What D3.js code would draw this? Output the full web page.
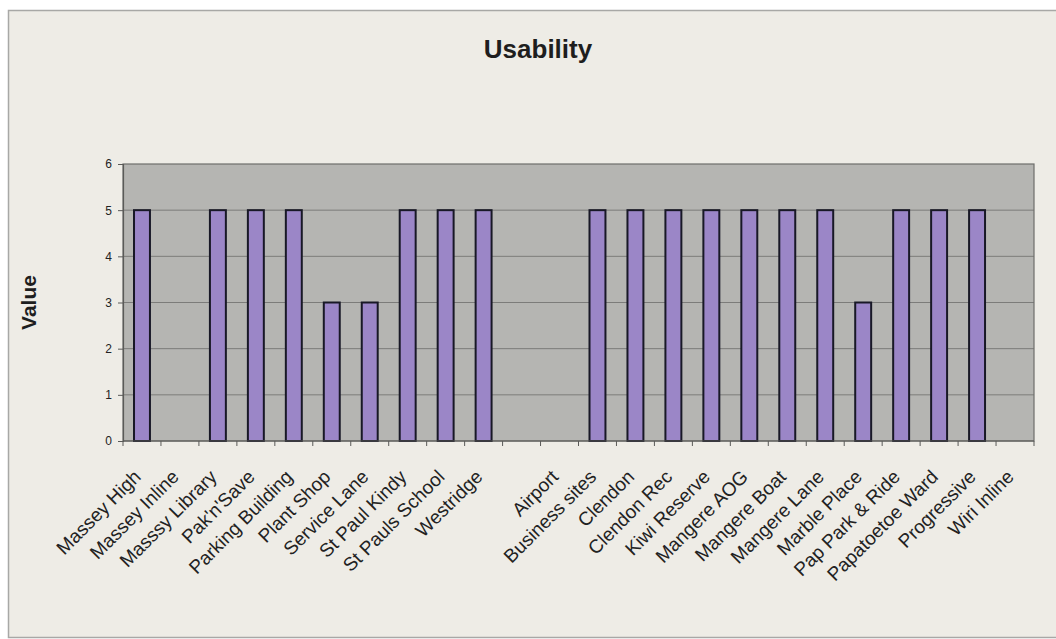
<!DOCTYPE html>
<html>
<head>
<meta charset="utf-8">
<script src="https://cdn.jsdelivr.net/npm/d3@7"></script>
<style>
  body { margin: 0; background: #ffffff; }
  text { font-family: Arial, "Liberation Sans", sans-serif; }
</style>
</head>
<body>
<div id="myChart"></div>
<script>
// categories (one blank slot between Westridge and Airport)
var sites = ["Massey High", "Massey Inline", "Masssy Library", "Pak'n'Save", "Parking Building",
  "Plant Shop", "Service Lane", "St Paul Kindy", "St Pauls School", "Westridge", "",
  "Airport", "Business sites", "Clendon", "Clendon Rec", "Kiwi Reserve", "Mangere AOG",
  "Mangere Boat", "Mangere Lane", "Marble Place", "Pap Park & Ride", "Papatoetoe Ward",
  "Progressive", "Wiri Inline"];
// usability values, null = no bar
var usability = [5, null, 5, 5, 5, 3, 3, 5, 5, 5, null,
  null, 5, 5, 5, 5, 5, 5, 5, 3, 5, 5, 5, null];
var yTicks = [0, 1, 2, 3, 4, 5, 6];

var width = 1056, height = 639;
var plot = { left: 123, right: 1034, top: 164, bottom: 441 };

var svg = d3.select("#myChart")
  .append("svg")
  .attr("width", width)
  .attr("height", height);

// chart area
svg.append("rect")
  .attr("x", 8.5)
  .attr("y", 10.5)
  .attr("width", width)
  .attr("height", 627)
  .style("fill", "#eeece6")
  .style("stroke", "#a8a8a6")
  .style("stroke-width", 1.5);

// title
svg.append("text")
  .attr("x", 538)
  .attr("y", 58)
  .attr("text-anchor", "middle")
  .style("font-size", "26px")
  .style("font-weight", "bold")
  .style("fill", "#1e1e1e")
  .text("Usability");

// scales
var x = d3.scaleBand()
  .domain(d3.range(sites.length))
  .range([plot.left, plot.right])
  .padding(0);

var y = d3.scaleLinear()
  .domain([0, 6])
  .range([plot.bottom, plot.top]);

// plot background
svg.append("rect")
  .attr("x", plot.left)
  .attr("y", plot.top)
  .attr("width", plot.right - plot.left)
  .attr("height", plot.bottom - plot.top)
  .style("fill", "#b5b5b2");

// gridlines
svg.append("g")
  .selectAll("line")
  .data(yTicks.slice(1, -1))
  .enter()
  .append("line")
  .attr("x1", plot.left)
  .attr("x2", plot.right)
  .attr("y1", function(d) { return y(d) })
  .attr("y2", function(d) { return y(d) })
  .style("stroke", "#7c7c7a")
  .style("stroke-width", 1);

// plot border
svg.append("rect")
  .attr("x", plot.left)
  .attr("y", plot.top)
  .attr("width", plot.right - plot.left)
  .attr("height", plot.bottom - plot.top)
  .style("fill", "none")
  .style("stroke", "#6e6e6c")
  .style("stroke-width", 1.2);

// bars
var barW = x.bandwidth() * 0.42;
svg.append("g")
  .selectAll(".bar")
  .data(usability.map(function(v, i) { return { i: i, val: v } }).filter(function(d) { return d.val != null }))
  .enter()
  .append("rect")
  .attr("class", "bar")
  .attr("x", function(d) { return x(d.i) + (x.bandwidth() - barW) / 2 })
  .attr("y", function(d) { return y(d.val) })
  .attr("width", barW)
  .attr("height", function(d) { return y(0) - y(d.val) })
  .style("fill", "#9b86c7")
  .style("stroke", "#181826")
  .style("stroke-width", 2);

// y axis
var yAxis = svg.append("g")
  .attr("transform", "translate(" + plot.left + ",0)")
  .call(d3.axisLeft(y).tickValues(yTicks).tickFormat(d3.format("d")).tickSize(5).tickPadding(6));
yAxis.select(".domain").style("stroke", "#5a5a58").style("stroke-width", 1.2);
yAxis.selectAll(".tick line").style("stroke", "#5a5a58");
yAxis.selectAll("text")
  .style("font-size", "12px")
  .style("fill", "#222");

// x axis: ticks on category boundaries
var xAxis = svg.append("g")
  .attr("transform", "translate(0," + plot.bottom + ")");
xAxis.append("line")
  .attr("x1", plot.left)
  .attr("x2", plot.right)
  .style("stroke", "#5a5a58")
  .style("stroke-width", 1.2);
xAxis.selectAll(".tk")
  .data(d3.range(sites.length + 1))
  .enter()
  .append("line")
  .attr("class", "tk")
  .attr("x1", function(d) { return plot.left + d * x.step() })
  .attr("x2", function(d) { return plot.left + d * x.step() })
  .attr("y1", 0)
  .attr("y2", 5)
  .style("stroke", "#5a5a58");

xAxis.selectAll(".lbl")
  .data(sites)
  .enter()
  .append("text")
  .attr("class", "lbl")
  .attr("text-anchor", "end")
  .attr("transform", function(d, i) {
    return "translate(" + (x(i) + x.bandwidth() / 2) + ",37) rotate(-45)";
  })
  .style("font-size", "19px")
  .style("fill", "#222")
  .text(function(d) { return d });

// y axis title
svg.append("text")
  .attr("transform", "translate(36," + ((plot.top + plot.bottom) / 2) + ") rotate(-90)")
  .attr("text-anchor", "middle")
  .style("font-size", "21px")
  .style("font-weight", "bold")
  .style("fill", "#1e1e1e")
  .text("Value");
</script>
</body>
</html>
